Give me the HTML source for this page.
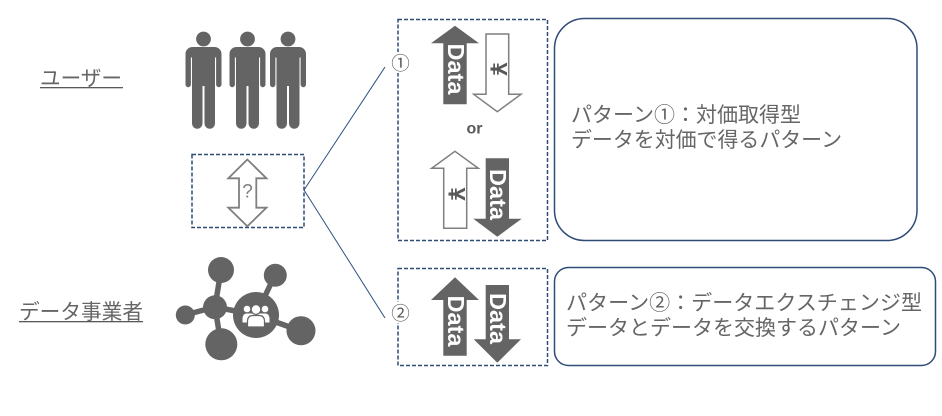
<!DOCTYPE html>
<html><head><meta charset="utf-8">
<style>
html,body{margin:0;padding:0;background:#fff;width:942px;height:416px;overflow:hidden}
svg{display:block}
text{font-family:"Liberation Sans","Noto Sans CJK JP",sans-serif;fill:#595959}
.j{font-size:20.8px;font-weight:400;fill:#666}
.d{font-size:23.5px;font-weight:700;fill:#fff}
.y{font-size:24px;font-weight:700;font-family:"Liberation Sans",sans-serif}
</style></head><body>
<svg width="942" height="416" viewBox="0 0 942 416" xmlns="http://www.w3.org/2000/svg">
<defs>
<g id="p" fill="#646464">
<circle cx="0" cy="-9" r="7.4"/>
<path d="M-11-1H11A7 7 0 0 1 18 6V36.500A2.700 2.700 0 0 1 12.600 36.500V9.500H11.500V75.500A4.700 4.700 0 0 1 1 75.500V38H-1V75.500A4.700 4.700 0 0 1 -11.500 75.500V9.500H-12.600V36.500A2.700 2.700 0 0 1 -18 36.500V6A7 7 0 0 1 -11 -1Z"/>
</g>
</defs>
<use href="#p" x="203.500" y="48"/>
<use href="#p" x="247.500" y="48"/>
<use href="#p" x="288" y="48"/>

<text x="40" y="85.500" class="j" textLength="82" lengthAdjust="spacingAndGlyphs">ユーザー</text>
<rect x="40" y="87" width="83" height="1.300" fill="#595959"/>
<text x="19" y="319" class="j" textLength="124" lengthAdjust="spacingAndGlyphs">データ事業者</text>
<rect x="19" y="321" width="124" height="1.300" fill="#595959"/>

<!-- network -->
<g stroke="#646464" stroke-width="5.500" fill="none">
<path d="M215 307L221 270M215 307L185 315M215 307L221 344M215 307L256 315M256 315L275 275M256 315L301 331"/>
</g>
<g fill="#646464">
<circle cx="221" cy="270" r="13"/>
<circle cx="275.300" cy="275.300" r="11.500"/>
<circle cx="215" cy="307.300" r="12"/>
<circle cx="185.300" cy="315" r="9.500"/>
<circle cx="221.300" cy="344.300" r="16"/>
<circle cx="256" cy="315" r="23"/>
<circle cx="301" cy="330.700" r="14.500"/>
</g>
<g fill="#fff">
<circle cx="247" cy="309" r="3.300"/>
<circle cx="265" cy="309" r="3.300"/>
<path d="M242.500 322.500V318Q243 313.500 247 313.500H265Q269 313.500 269.500 318V322.500Z"/>
<g stroke="#646464" stroke-width="1.200">
<circle cx="256" cy="309.500" r="4.800"/>
<path d="M247.500 327V320.500Q248 315.500 253 315.500H259Q264 315.500 264.500 320.500V327Z"/>
</g>
</g>

<!-- connectors -->
<path d="M304 190L385 67M304 190L385 318" stroke="#2f5280" stroke-width="1" fill="none"/>

<!-- dashed boxes -->
<g fill="#fff" stroke="#2f4b77" stroke-width="1.500" stroke-dasharray="4 2">
<rect x="192" y="154.500" width="112" height="73"/>
<rect x="398" y="19.500" width="149.500" height="221"/>
<rect x="398" y="268.500" width="149.500" height="97"/>
</g>

<!-- ? arrow -->
<path d="M247.300 159.500L266.500 178.300H256.300V207.700H266.500L247.300 226.300L228.300 207.700H239V178.300H228.300Z" fill="#fff" stroke="#7f7f7f" stroke-width="1.800"/>
<text x="247.500" y="197.500" font-size="19" text-anchor="middle" style="fill:#7f7f7f">?</text>

<!-- circled numbers -->
<rect x="386" y="52" width="24" height="21" fill="#fff"/>
<rect x="386" y="302" width="24" height="21" fill="#fff"/>
<text x="400.500" y="70" font-size="18.500" text-anchor="middle">①</text>
<text x="400.500" y="320" font-size="18.500" text-anchor="middle">②</text>

<!-- pattern 1 arrows -->
<path d="M455 25.700L479 43.300H466.700V104.300H443.300V43.300H431Z" fill="#646464"/>
<text class="d" transform="translate(448 69) rotate(90)" text-anchor="middle">Data</text>
<path d="M486 34H508.700V94.300H521L497.300 111.700L473.700 94.300H486Z" fill="#fff" stroke="#7f7f7f" stroke-width="1.500"/>
<text class="y" transform="translate(490.500 69) rotate(90)" text-anchor="middle">¥</text>

<text x="474.500" y="133.500" font-size="16" font-weight="700" text-anchor="middle">or</text>

<path d="M455 151.300L478.300 168.300H466.700V228.300H443.700V168.300H431.700Z" fill="#fff" stroke="#7f7f7f" stroke-width="1.500"/>
<text class="y" transform="translate(448.500 194) rotate(90)" text-anchor="middle">¥</text>
<path d="M485.700 158.300H509V218.700H521.700L497.300 236.700L473.300 218.700H485.700Z" fill="#646464"/>
<text class="d" transform="translate(490 194.500) rotate(90)" text-anchor="middle">Data</text>

<!-- pattern 2 arrows -->
<path d="M455 277.300L479 300H466.700V355.700H443.300V300H431Z" fill="#646464"/>
<text class="d" transform="translate(448 321) rotate(90)" text-anchor="middle">Data</text>
<path d="M485.700 285H509V339.300H521L497.300 362.700L473.700 339.300H485.700Z" fill="#646464"/>
<text class="d" transform="translate(490 318.500) rotate(90)" text-anchor="middle">Data</text>

<!-- rounded boxes -->
<rect x="554.500" y="18.500" width="362.500" height="222" rx="30" ry="30" fill="#fff" stroke="#2f4b77" stroke-width="1.500"/>
<rect x="554.500" y="267.500" width="381" height="98" rx="14" ry="14" fill="#fff" stroke="#2f4b77" stroke-width="1.500"/>

<text x="571" y="122" class="j" textLength="230" lengthAdjust="spacingAndGlyphs">パターン①：対価取得型</text>
<text x="571" y="147" class="j" textLength="271" lengthAdjust="spacingAndGlyphs">データを対価で得るパターン</text>
<text x="566" y="310" class="j" textLength="356" lengthAdjust="spacingAndGlyphs">パターン②：データエクスチェンジ型</text>
<text x="566" y="335" class="j" textLength="335" lengthAdjust="spacingAndGlyphs">データとデータを交換するパターン</text>
</svg>
</body></html>
